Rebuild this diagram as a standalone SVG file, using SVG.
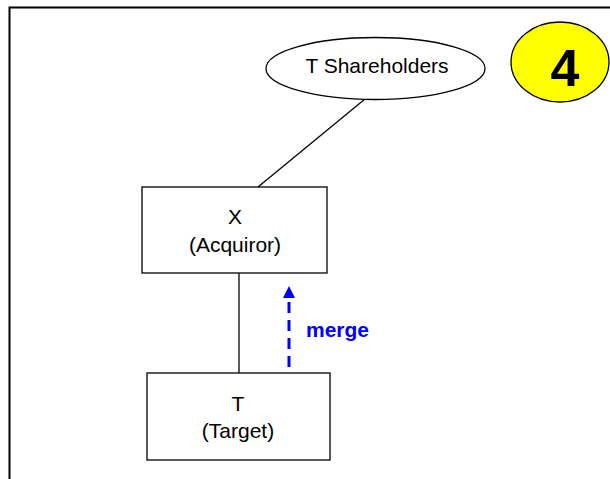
<svg xmlns="http://www.w3.org/2000/svg" width="610" height="479" viewBox="0 0 610 479">
<style>
.n{fill:#fff;stroke:#000;stroke-width:1.3}
.t{font-family:"Liberation Sans",Arial,sans-serif;font-size:21px;fill:#000;text-anchor:middle}
.c{stroke:#000;stroke-width:1.3;fill:none}
</style>
<defs>
<marker id="ah" markerWidth="4" markerHeight="4" refX="2" refY="2" orient="auto" markerUnits="strokeWidth" viewBox="0 0 4 4">
<path d="M0,0 L4,2 L0,4 Z" fill="#0000ff"/>
</marker>
</defs>
<rect width="610" height="479" fill="#fff"/>
<path d="M9.5,479 V7.5 H610" fill="none" stroke="#000" stroke-width="2"/>
<g id="connectors">
<line class="c" x1="365" y1="99" x2="258" y2="187"/>
<line class="c" x1="239" y1="273" x2="239" y2="373"/>
<line x1="289" y1="367" x2="289" y2="292" stroke="#0000ff" stroke-width="3" stroke-dasharray="11,7" marker-end="url(#ah)"/>
<text x="306" y="337" font-family="Liberation Sans,Arial,sans-serif" font-size="21" font-weight="bold" fill="#0000ff">merge</text>
</g>
<g id="shareholders">
<ellipse class="n" cx="375.5" cy="68.5" rx="109.5" ry="31"/>
<text class="t" x="377" y="73">T Shareholders</text>
</g>
<g id="badge">
<ellipse cx="560" cy="62" rx="49" ry="40" fill="#ffff00" stroke="#000" stroke-width="1.3"/>
<text x="565" y="86" font-family="Liberation Sans,Arial,sans-serif" font-size="52" font-weight="bold" text-anchor="middle" fill="#000">4</text>
</g>
<g id="acquiror">
<rect class="n" x="142" y="187" width="185" height="86"/>
<text class="t" x="235" y="224">X</text>
<text class="t" x="235" y="252">(Acquiror)</text>
</g>
<g id="target">
<rect class="n" x="147" y="373" width="183" height="87"/>
<text class="t" x="238" y="411">T</text>
<text class="t" x="238" y="438">(Target)</text>
</g>
</svg>
